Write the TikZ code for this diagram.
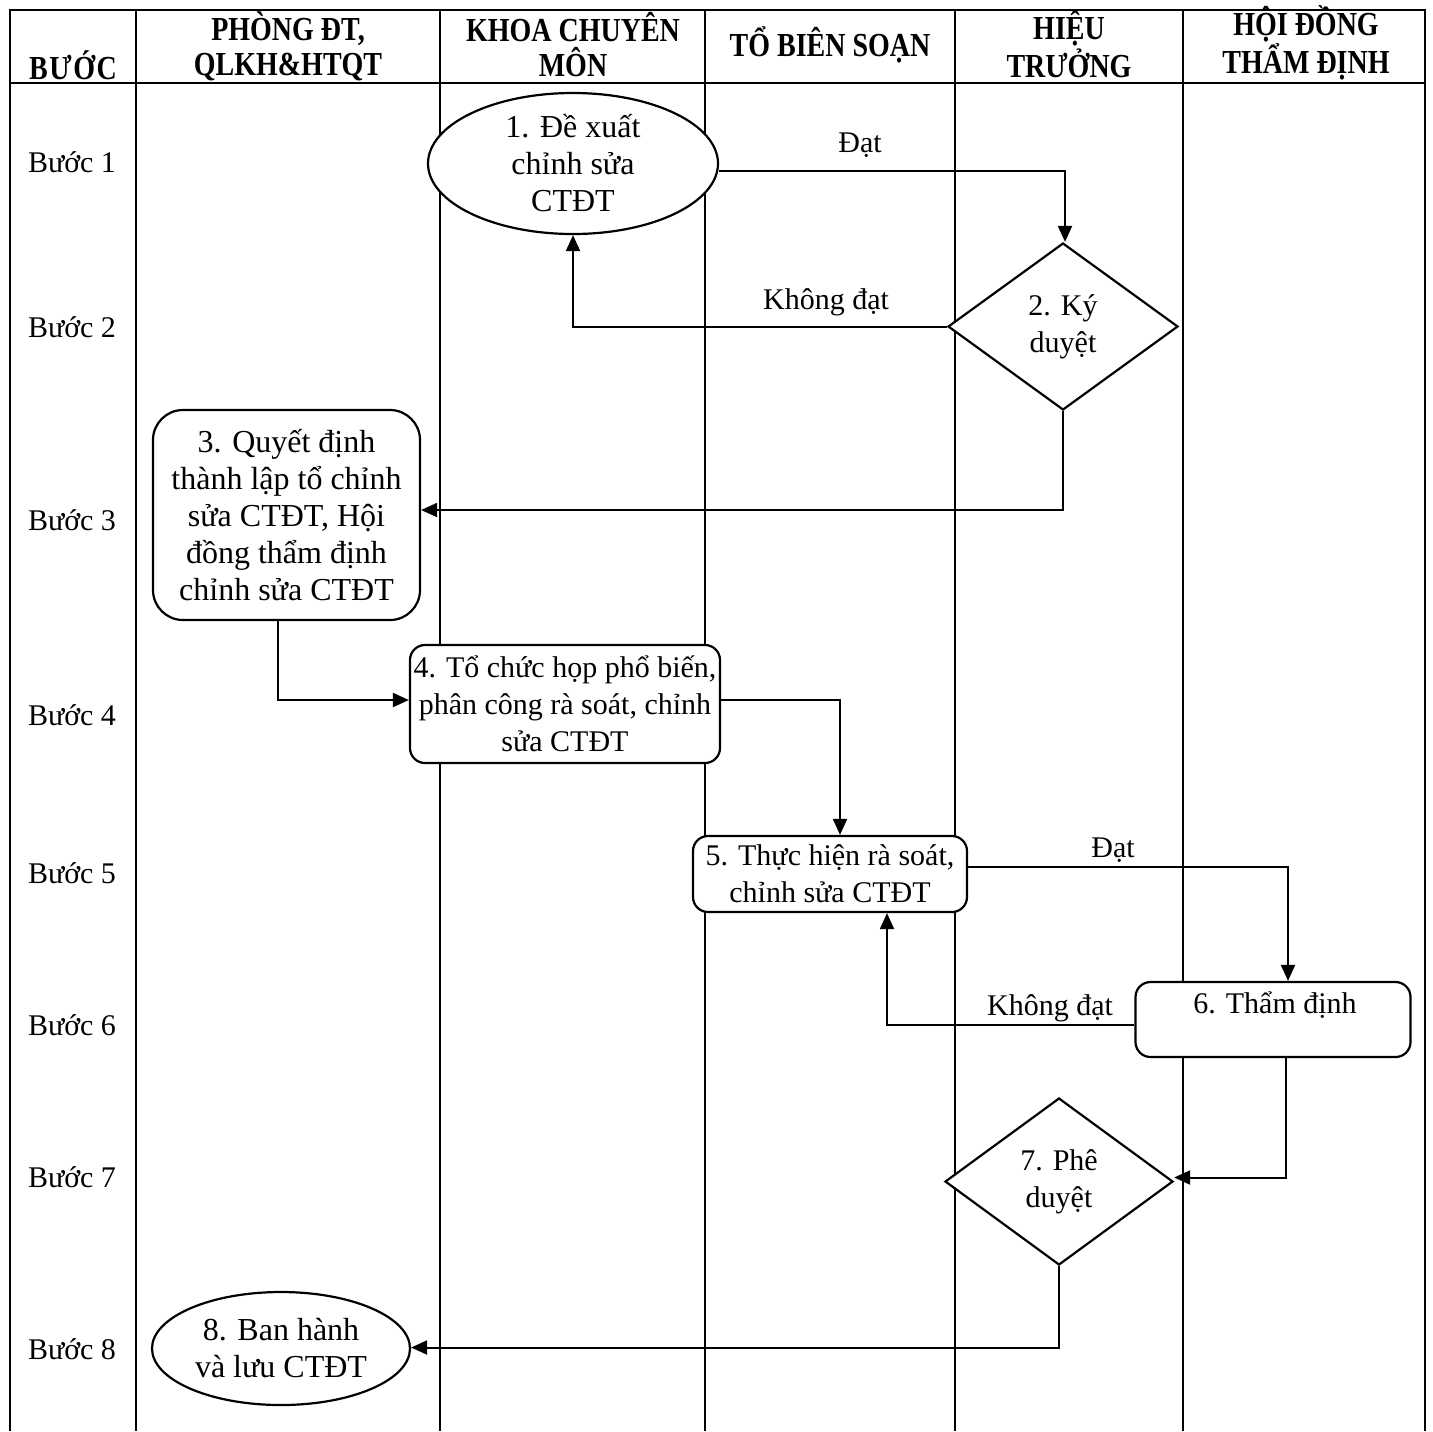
\documentclass[tikz,border=0pt]{standalone}
\usepackage{fontspec}
\setmainfont{Liberation Serif}
\usetikzlibrary{shapes.geometric,arrows.meta,calc}
\newcommand{\hl}[1]{\scalebox{1}[1.2]{#1}}
\begin{document}
\begin{tikzpicture}[x=0.5pt,y=-0.5pt,
  every node/.style={font=\fontsize{15}{18.5}\selectfont, inner sep=0pt, align=center},
  big/.style={font=\fontsize{16}{18.5}\selectfont},
  hdr/.style={font=\fontsize{14}{17.5}\selectfont\bfseries},
  box/.style={draw, fill=white, line width=1.1pt, rounded corners=7.5pt},
  bigbox/.style={box, rounded corners=15pt},
  ell/.style={draw, fill=white, ellipse, line width=1.1pt},
  dia/.style={draw, fill=white, diamond, line width=1.1pt},
  arr/.style={line width=1pt, -{Triangle[length=8pt,width=7pt]}},
  gridline/.style={line width=0.9pt}]
\fill[white] (0,0) rectangle (1433,1431);
\useasboundingbox (0,0) rectangle (1433,1431);
% table
\draw[gridline] (10,1431) -- (10,10) -- (1425,10) -- (1425,1431);
\draw[gridline] (10,83) -- (1425,83);
\foreach \x in {136,440,705,955,1183} \draw[gridline] (\x,10) -- (\x,1431);
% headers
\node[hdr] (h0) at (73,65) {\hl{B\kern0.8ptƯ\kern0.8ptỚ\kern0.8ptC}};
\node[hdr] (h1) at (288,46) {\hl{PHÒNG ĐT,}\\\hl{QLKH\&HTQT}};
\node[hdr] (h2) at (573,45) {\hl{KHOA CHUYÊN}\\\hl{MÔN}};
\node[hdr] (h3) at (830,45) {\hl{TỔ BIÊN SOẠN}};
\node[hdr] (h4) at (1069,44) {\hl{HIỆU}\\\hl{TRƯỞNG}};
\node[hdr] (h5) at (1306,43) {\hl{HỘI ĐỒNG}\\\hl{THẨM ĐỊNH}};
% steps
\node (s1) at (72,162) {Bước 1};
\node (s2) at (72,327) {Bước 2};
\node (s3) at (72,520) {Bước 3};
\node (s4) at (72,715) {Bước 4};
\node (s5) at (72,873) {Bước 5};
\node (s6) at (72,1025) {Bước 6};
\node (s7) at (72,1177) {Bước 7};
\node (s8) at (72,1349) {Bước 8};
% shapes
\node[ell, big, minimum width=145pt, minimum height=70.5pt] (n1) at (573,163.5) {1. Đề xuất\\chỉnh sửa\\CTĐT};
\node[dia, minimum width=115pt, minimum height=83.5pt] (n2) at (1063,326.5) {2. Ký\\duyệt};
\node[bigbox, big, minimum width=133.5pt, minimum height=105pt] (n3) at (286.5,515) {3. Quyết định\\thành lập tổ chỉnh\\sửa CTĐT, Hội\\đồng thẩm định\\chỉnh sửa CTĐT};
\node[box, minimum width=155pt, minimum height=59pt] (n4) at (565,704) {4. Tổ chức họp phổ biến,\\phân công rà soát, chỉnh\\sửa CTĐT};
\node[box, minimum width=137pt, minimum height=38pt] (n5) at (830,874) {5. Thực hiện rà soát,\\chỉnh sửa CTĐT};
\node[box, minimum width=137.5pt, minimum height=37.5pt] (n6) at (1273,1019.5) {};
\node (t6) at (1275,1005) {6. Thẩm định};
\node[dia, minimum width=114pt, minimum height=83.5pt] (n7) at (1059,1181.5) {7. Phê\\duyệt};
\node[ell, big, minimum width=129pt, minimum height=56.5pt] (n8) at (281,1348.5) {8. Ban hành\\và lưu CTĐT};
% connectors
\draw[arr] ([yshift=-3.5pt]n1.east) -| ([xshift=1pt]n2.north);
\draw[arr] (n2.west) -| (n1.south);
\draw[arr] (n2.south) |- ([yshift=2.5pt]n3.east);
\draw[arr] ([xshift=-4.25pt]n3.south) |- ([yshift=2pt]n4.west);
\draw[arr] ([yshift=2pt]n4.east) -| ([xshift=5pt]n5.north);
\draw[arr] ([yshift=3.5pt]n5.east) -| ([xshift=7.5pt]n6.north);
\draw[arr] ([yshift=-2.75pt]n6.west) -| ([xshift=28.5pt]n5.south);
\draw[arr] ([xshift=6.5pt]n6.south) |- ([yshift=2pt]n7.east);
\draw[arr] (n7.south) |- ([yshift=0.5pt]n8.east);
% labels
\node (l1) at (860,145) {Đạt};
\node (l2) at (826,302) {Không đạt};
\node (l3) at (1113,850) {Đạt};
\node (l4) at (1050,1008) {Không đạt};
\end{tikzpicture}
\end{document}
